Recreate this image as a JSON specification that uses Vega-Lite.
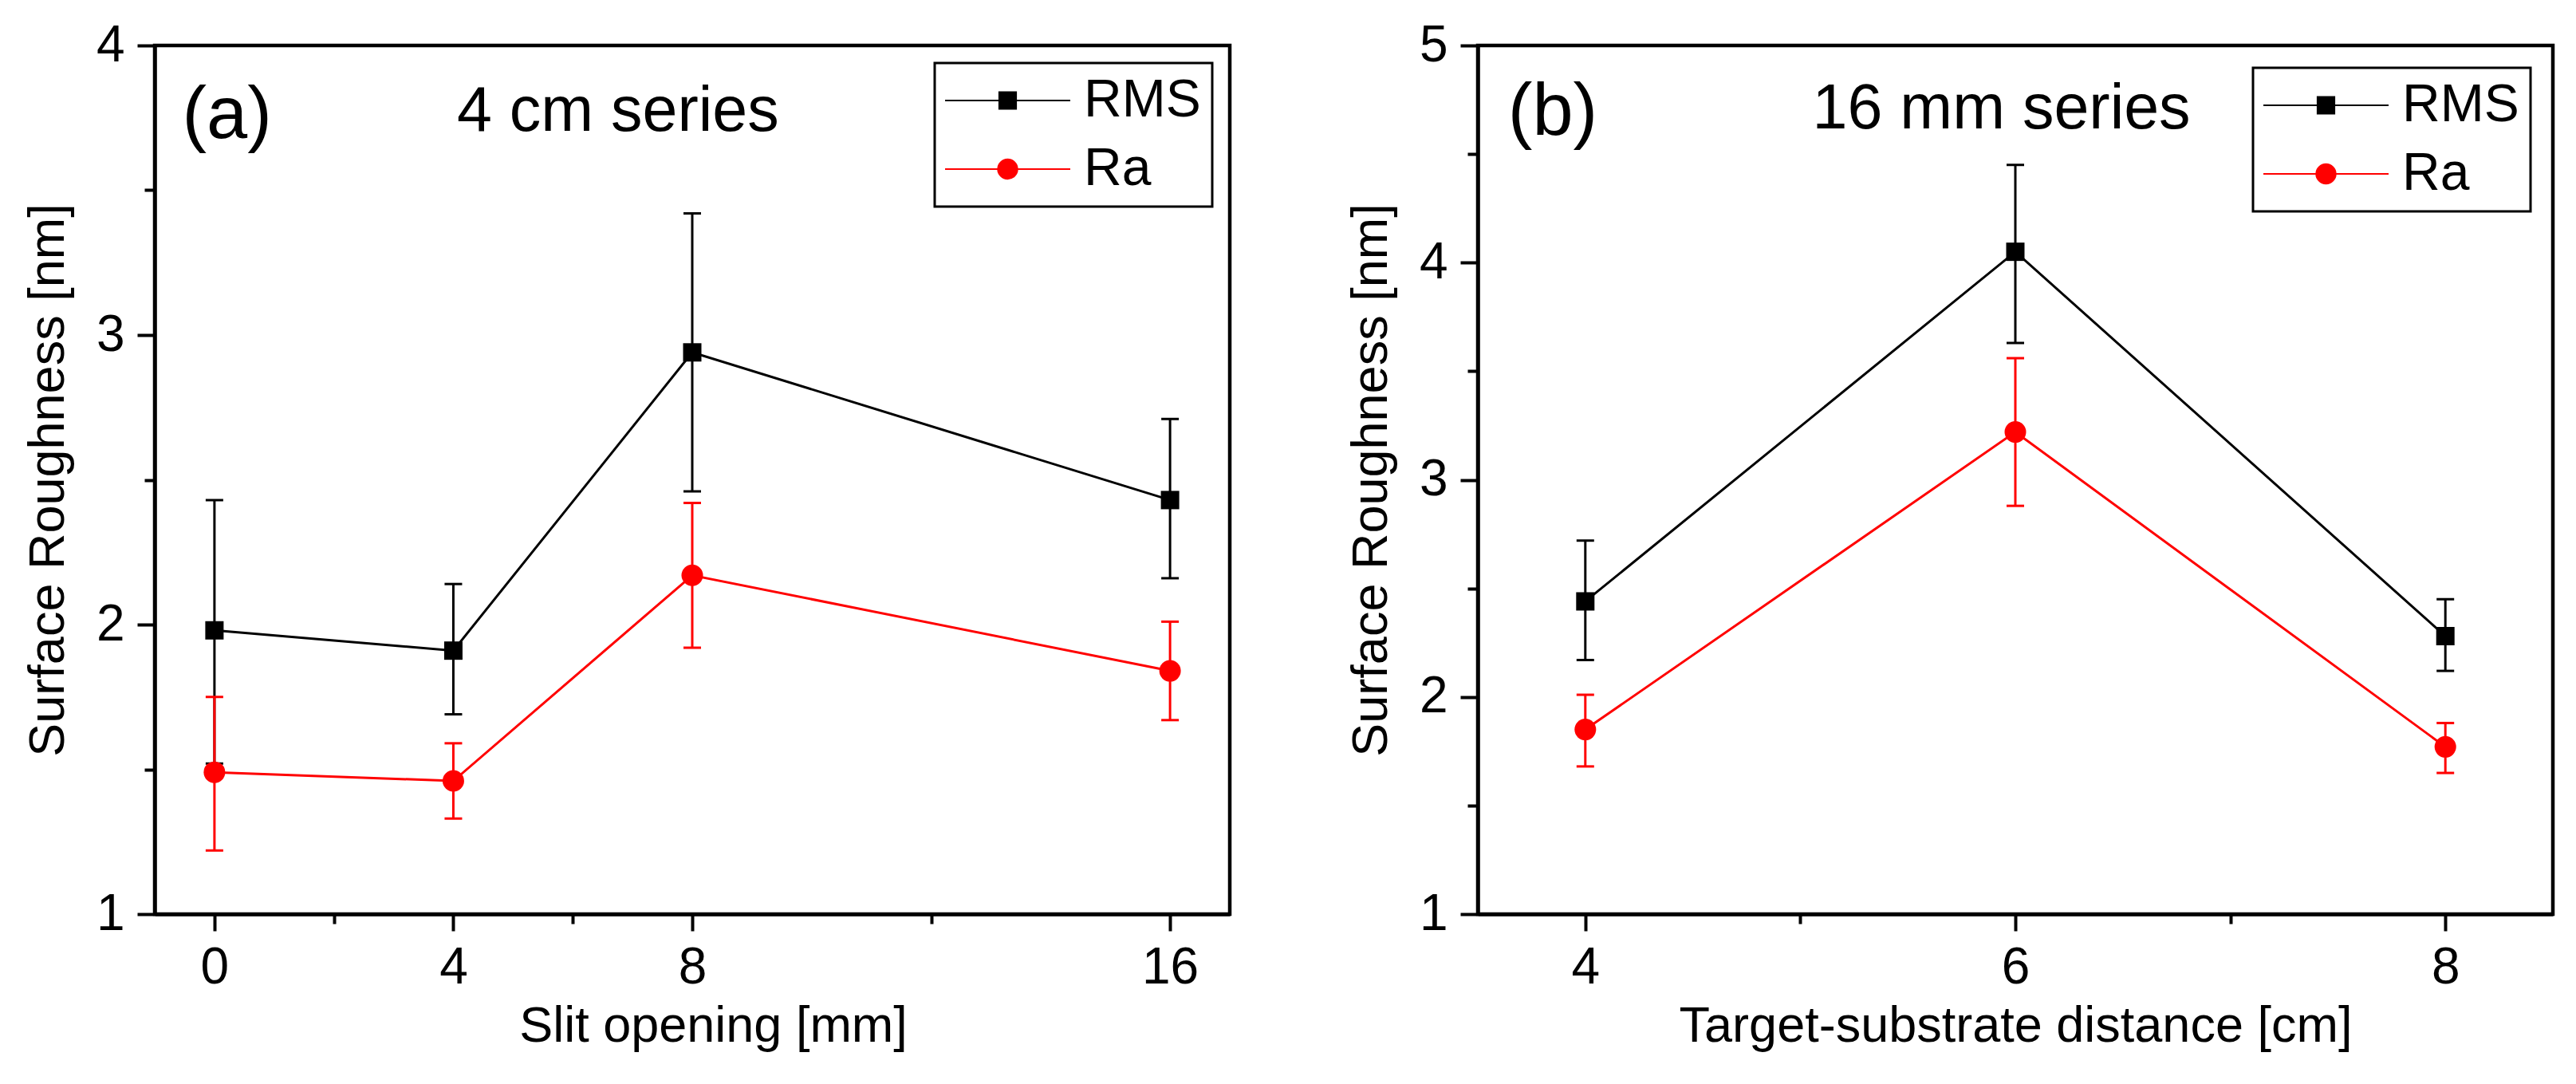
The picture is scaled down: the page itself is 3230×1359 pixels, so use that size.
{
  "$schema": "https://vega.github.io/schema/vega-lite/v6.json",
  "background": "white",
  "padding": {"left": 27, "top": 22, "right": 5, "bottom": 5},
  "datasets": {
    "a": [
      {"x": 0, "series": "RMS", "v": 1.98, "lo": 1.52, "hi": 2.43},
      {"x": 4, "series": "RMS", "v": 1.91, "lo": 1.69, "hi": 2.14},
      {"x": 8, "series": "RMS", "v": 2.94, "lo": 2.46, "hi": 3.42},
      {"x": 16, "series": "RMS", "v": 2.43, "lo": 2.16, "hi": 2.71},
      {"x": 0, "series": "Ra", "v": 1.49, "lo": 1.22, "hi": 1.75},
      {"x": 4, "series": "Ra", "v": 1.46, "lo": 1.33, "hi": 1.59},
      {"x": 8, "series": "Ra", "v": 2.17, "lo": 1.92, "hi": 2.42},
      {"x": 16, "series": "Ra", "v": 1.84, "lo": 1.67, "hi": 2.01}
    ],
    "b": [
      {"x": 4, "series": "RMS", "v": 2.44, "lo": 2.17, "hi": 2.72},
      {"x": 6, "series": "RMS", "v": 4.05, "lo": 3.63, "hi": 4.45},
      {"x": 8, "series": "RMS", "v": 2.28, "lo": 2.12, "hi": 2.45},
      {"x": 4, "series": "Ra", "v": 1.85, "lo": 1.68, "hi": 2.01},
      {"x": 6, "series": "Ra", "v": 3.22, "lo": 2.88, "hi": 3.56},
      {"x": 8, "series": "Ra", "v": 1.77, "lo": 1.65, "hi": 1.88}
    ]
  },
  "hconcat": [
    {
      "width": 1348,
      "height": 1089,
      "data": {"name": "a"},
      "resolve": {"axis": {"x": "independent", "y": "independent"}},
      "layer": [
        {
          "mark": {"type": "rule", "strokeWidth": 3},
          "encoding": {
            "x": {"field": "x", "type": "quantitative", "scale": {"domain": [-1, 17], "nice": false, "zero": false},
              "axis": {"orient": "bottom", "values": [0, 4, 8, 16], "tickSize": 21, "labelPadding": 14, "title": "Slit opening [mm]", "titlePadding": 10, "titleX": 700}},
            "y": {"field": "lo", "type": "quantitative", "scale": {"domain": [1, 4], "nice": false, "zero": false},
              "axis": {"orient": "left", "values": [1, 2, 3, 4], "tickSize": 22, "labelPadding": 16, "title": "Surface Roughness [nm]", "titlePadding": 28}},
            "y2": {"field": "hi"},
            "color": {"condition": {"test": "datum.series === 'Ra'", "value": "#ff0000"}, "value": "#000000"}
          }
        },
        {
          "mark": {"type": "tick", "orient": "horizontal", "size": 22, "thickness": 3, "opacity": 1},
          "encoding": {
            "x": {"field": "x", "type": "quantitative", "axis": null},
            "y": {"field": "lo", "type": "quantitative", "axis": null},
            "color": {"condition": {"test": "datum.series === 'Ra'", "value": "#ff0000"}, "value": "#000000"}
          }
        },
        {
          "mark": {"type": "tick", "orient": "horizontal", "size": 22, "thickness": 3, "opacity": 1},
          "encoding": {
            "x": {"field": "x", "type": "quantitative", "axis": null},
            "y": {"field": "hi", "type": "quantitative", "axis": null},
            "color": {"condition": {"test": "datum.series === 'Ra'", "value": "#ff0000"}, "value": "#000000"}
          }
        },
        {
          "mark": {"type": "line", "strokeWidth": 3},
          "encoding": {
            "x": {"field": "x", "type": "quantitative", "axis": null},
            "y": {"field": "v", "type": "quantitative", "axis": null},
            "detail": {"field": "series", "type": "nominal"},
            "color": {"condition": {"test": "datum.series === 'Ra'", "value": "#ff0000"}, "value": "#000000"}
          }
        },
        {
          "transform": [{"filter": "datum.series === 'RMS'"}],
          "mark": {"type": "point", "shape": "square", "filled": true, "size": 529, "color": "#000000", "opacity": 1},
          "encoding": {
            "x": {"field": "x", "type": "quantitative", "axis": null},
            "y": {"field": "v", "type": "quantitative", "axis": null}
          }
        },
        {
          "transform": [{"filter": "datum.series === 'Ra'"}],
          "mark": {"type": "point", "shape": "circle", "filled": true, "size": 729, "color": "#ff0000", "opacity": 1},
          "encoding": {
            "x": {"field": "x", "type": "quantitative", "axis": null},
            "y": {"field": "v", "type": "quantitative", "axis": null}
          }
        },
        {
          "transform": [{"filter": "false"}],
          "mark": {"type": "point", "filled": true, "opacity": 1},
          "encoding": {
            "x": {"field": "x", "type": "quantitative",
              "axis": {"orient": "bottom", "values": [2, 6, 12], "tickSize": 12, "labels": false, "domain": false, "title": null}},
            "y": {"field": "v", "type": "quantitative",
              "axis": {"orient": "left", "values": [1.5, 2.5, 3.5], "tickSize": 13, "labels": false, "domain": false, "title": null}},
            "shape": {"field": "series", "type": "nominal",
              "scale": {"domain": ["RMS", "Ra"], "range": ["M-2.833,0H10.25M2.825,-0.883H4.591V0.883H2.825Z", "M-2.833,0H10.25M4.725,0A1.017,1.017,0,1,1,2.691,0A1.017,1.017,0,1,1,4.725,0Z"]},
              "legend": {"title": null, "orient": "top-right", "offset": 22, "padding": 14, "strokeColor": "#000000", "fillColor": "#ffffff", "symbolSize": 576, "symbolStrokeWidth": 2, "symbolOpacity": 1, "labelFontSize": 66, "labelColor": "#000000", "labelOffset": 107, "rowPadding": 20,
                "encode": {"legend": {"update": {"strokeWidth": {"value": 3}}}, "symbols": {"update": {"stroke": {"signal": "datum.value === 'Ra' ? '#ff0000' : '#000000'"}, "strokeWidth": {"value": 2}}}}}},
            "color": {"field": "series", "type": "nominal",
              "scale": {"domain": ["RMS", "Ra"], "range": ["#000000", "#ff0000"]},
              "legend": {"title": null, "orient": "top-right", "offset": 22, "padding": 14, "strokeColor": "#000000", "fillColor": "#ffffff", "symbolSize": 576, "symbolStrokeWidth": 2, "symbolOpacity": 1, "labelFontSize": 66, "labelColor": "#000000", "labelOffset": 107, "rowPadding": 20,
                "encode": {"legend": {"update": {"strokeWidth": {"value": 3}}}, "symbols": {"update": {"stroke": {"signal": "datum.value === 'Ra' ? '#ff0000' : '#000000'"}, "strokeWidth": {"value": 2}}}}}}
          }
        },
        {
          "data": {"values": [{}]},
          "mark": {"type": "text", "text": "(a)", "fontSize": 92, "align": "left", "baseline": "alphabetic", "color": "#000000"},
          "encoding": {
            "x": {"datum": -0.54, "type": "quantitative", "axis": null},
            "y": {"datum": 3.68, "type": "quantitative", "axis": null}
          }
        },
        {
          "data": {"values": [{}]},
          "mark": {"type": "text", "text": "4 cm series", "fontSize": 79, "align": "left", "baseline": "alphabetic", "color": "#000000"},
          "encoding": {
            "x": {"datum": 4.06, "type": "quantitative", "axis": null},
            "y": {"datum": 3.705, "type": "quantitative", "axis": null}
          }
        }
      ]
    },
    {
      "width": 1348,
      "height": 1089,
      "data": {"name": "b"},
      "resolve": {"axis": {"x": "independent", "y": "independent"}},
      "layer": [
        {
          "mark": {"type": "rule", "strokeWidth": 3},
          "encoding": {
            "x": {"field": "x", "type": "quantitative", "scale": {"domain": [3.5, 8.5], "nice": false, "zero": false},
              "axis": {"orient": "bottom", "values": [4, 6, 8], "tickSize": 21, "labelPadding": 14, "title": "Target-substrate distance [cm]", "titlePadding": 10}},
            "y": {"field": "lo", "type": "quantitative", "scale": {"domain": [1, 5], "nice": false, "zero": false},
              "axis": {"orient": "left", "values": [1, 2, 3, 4, 5], "tickSize": 22, "labelPadding": 16, "title": "Surface Roughness [nm]", "titlePadding": 28}},
            "y2": {"field": "hi"},
            "color": {"condition": {"test": "datum.series === 'Ra'", "value": "#ff0000"}, "value": "#000000"}
          }
        },
        {
          "mark": {"type": "tick", "orient": "horizontal", "size": 22, "thickness": 3, "opacity": 1},
          "encoding": {
            "x": {"field": "x", "type": "quantitative", "axis": null},
            "y": {"field": "lo", "type": "quantitative", "axis": null},
            "color": {"condition": {"test": "datum.series === 'Ra'", "value": "#ff0000"}, "value": "#000000"}
          }
        },
        {
          "mark": {"type": "tick", "orient": "horizontal", "size": 22, "thickness": 3, "opacity": 1},
          "encoding": {
            "x": {"field": "x", "type": "quantitative", "axis": null},
            "y": {"field": "hi", "type": "quantitative", "axis": null},
            "color": {"condition": {"test": "datum.series === 'Ra'", "value": "#ff0000"}, "value": "#000000"}
          }
        },
        {
          "mark": {"type": "line", "strokeWidth": 3},
          "encoding": {
            "x": {"field": "x", "type": "quantitative", "axis": null},
            "y": {"field": "v", "type": "quantitative", "axis": null},
            "detail": {"field": "series", "type": "nominal"},
            "color": {"condition": {"test": "datum.series === 'Ra'", "value": "#ff0000"}, "value": "#000000"}
          }
        },
        {
          "transform": [{"filter": "datum.series === 'RMS'"}],
          "mark": {"type": "point", "shape": "square", "filled": true, "size": 529, "color": "#000000", "opacity": 1},
          "encoding": {
            "x": {"field": "x", "type": "quantitative", "axis": null},
            "y": {"field": "v", "type": "quantitative", "axis": null}
          }
        },
        {
          "transform": [{"filter": "datum.series === 'Ra'"}],
          "mark": {"type": "point", "shape": "circle", "filled": true, "size": 729, "color": "#ff0000", "opacity": 1},
          "encoding": {
            "x": {"field": "x", "type": "quantitative", "axis": null},
            "y": {"field": "v", "type": "quantitative", "axis": null}
          }
        },
        {
          "transform": [{"filter": "false"}],
          "mark": {"type": "point", "filled": true, "opacity": 1},
          "encoding": {
            "x": {"field": "x", "type": "quantitative",
              "axis": {"orient": "bottom", "values": [5, 7], "tickSize": 12, "labels": false, "domain": false, "title": null}},
            "y": {"field": "v", "type": "quantitative",
              "axis": {"orient": "left", "values": [1.5, 2.5, 3.5, 4.5], "tickSize": 13, "labels": false, "domain": false, "title": null}},
            "shape": {"field": "series", "type": "nominal",
              "scale": {"domain": ["RMS", "Ra"], "range": ["M-2.833,0H10.25M2.825,-0.883H4.591V0.883H2.825Z", "M-2.833,0H10.25M4.725,0A1.017,1.017,0,1,1,2.691,0A1.017,1.017,0,1,1,4.725,0Z"]},
              "legend": {"title": null, "orient": "top-right", "offset": 28, "padding": 14, "strokeColor": "#000000", "fillColor": "#ffffff", "symbolSize": 576, "symbolStrokeWidth": 2, "symbolOpacity": 1, "labelFontSize": 66, "labelColor": "#000000", "labelOffset": 107, "rowPadding": 20,
                "encode": {"legend": {"update": {"strokeWidth": {"value": 3}}}, "symbols": {"update": {"stroke": {"signal": "datum.value === 'Ra' ? '#ff0000' : '#000000'"}, "strokeWidth": {"value": 2}}}}}},
            "color": {"field": "series", "type": "nominal",
              "scale": {"domain": ["RMS", "Ra"], "range": ["#000000", "#ff0000"]},
              "legend": {"title": null, "orient": "top-right", "offset": 28, "padding": 14, "strokeColor": "#000000", "fillColor": "#ffffff", "symbolSize": 576, "symbolStrokeWidth": 2, "symbolOpacity": 1, "labelFontSize": 66, "labelColor": "#000000", "labelOffset": 107, "rowPadding": 20,
                "encode": {"legend": {"update": {"strokeWidth": {"value": 3}}}, "symbols": {"update": {"stroke": {"signal": "datum.value === 'Ra' ? '#ff0000' : '#000000'"}, "strokeWidth": {"value": 2}}}}}}
          }
        },
        {
          "data": {"values": [{}]},
          "mark": {"type": "text", "text": "(b)", "fontSize": 92, "align": "left", "baseline": "alphabetic", "color": "#000000"},
          "encoding": {
            "x": {"datum": 3.64, "type": "quantitative", "axis": null},
            "y": {"datum": 4.589, "type": "quantitative", "axis": null}
          }
        },
        {
          "data": {"values": [{}]},
          "mark": {"type": "text", "text": "16 mm series", "fontSize": 79, "align": "left", "baseline": "alphabetic", "color": "#000000"},
          "encoding": {
            "x": {"datum": 5.056, "type": "quantitative", "axis": null},
            "y": {"datum": 4.619, "type": "quantitative", "axis": null}
          }
        }
      ]
    }
  ],
  "spacing": 141,
  "resolve": {
    "scale": {"x": "independent", "y": "independent", "color": "independent", "shape": "independent"},
    "axis": {"x": "independent", "y": "independent"},
    "legend": {"color": "independent", "shape": "independent"}
  },
  "config": {
    "font": "Liberation Sans",
    "view": {"stroke": "#000000", "strokeWidth": 4.5},
    "axis": {
      "grid": false,
      "domainColor": "#000000",
      "domainWidth": 4.5,
      "tickColor": "#000000",
      "tickWidth": 4,
      "labelColor": "#000000",
      "titleColor": "#000000",
      "labelFont": "Liberation Sans",
      "titleFont": "Liberation Sans",
      "labelFontSize": 64,
      "titleFontSize": 63,
      "titleFontWeight": "normal",
      "labelFlush": false,
      "labelOverlap": false
    },
    "legend": {"labelFont": "Liberation Sans"}
  }
}
